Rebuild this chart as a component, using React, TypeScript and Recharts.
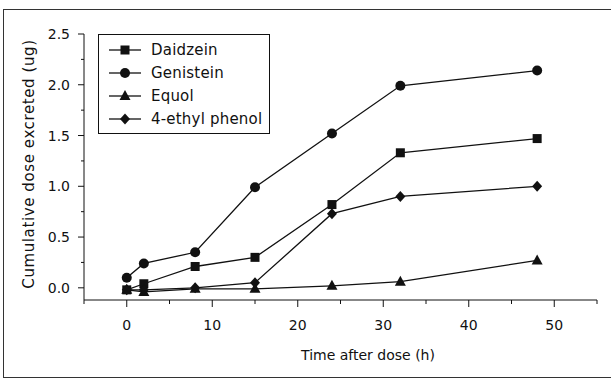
import { LineChart, Line, XAxis, YAxis } from 'recharts'

const HOURS = [0, 2, 8, 15, 24, 32, 48]
const DAIDZEIN = [-0.02, 0.04, 0.21, 0.3, 0.82, 1.33, 1.47]
const GENISTEIN = [0.1, 0.24, 0.35, 0.99, 1.52, 1.99, 2.14]
const EQUOL = [-0.02, -0.04, -0.01, -0.01, 0.02, 0.06, 0.27]
const ETHYL_PHENOL = [-0.02, -0.02, 0.0, 0.05, 0.73, 0.9, 1.0]

const X_TICKS = [-5, 0, 5, 10, 15, 20, 25, 30, 35, 40, 45, 50, 55]
const Y_TICKS = [0, 0.25, 0.5, 0.75, 1, 1.25, 1.5, 1.75, 2, 2.25, 2.5]

const SERIES = [
  { key: 'daidzein', name: 'Daidzein', shape: 'square' },
  { key: 'genistein', name: 'Genistein', shape: 'circle' },
  { key: 'equol', name: 'Equol', shape: 'triangle' },
  { key: 'ethyl', name: '4-ethyl phenol', shape: 'diamond' },
]

const INK = '#111'
const FONT = '"DejaVu Sans", sans-serif'

const data = HOURS.map((hour, i) => ({
  hour,
  daidzein: DAIDZEIN[i],
  genistein: GENISTEIN[i],
  equol: EQUOL[i],
  ethyl: ETHYL_PHENOL[i],
}))

function Marker({ shape, cx, cy }: { shape: string; cx: number; cy: number }) {
  if (shape === 'square') return <rect x={cx - 4.5} y={cy - 4.5} width={9} height={9} fill={INK} />
  if (shape === 'circle') return <circle cx={cx} cy={cy} r={5} fill={INK} />
  if (shape === 'triangle')
    return <polygon points={`${cx},${cy - 6} ${cx - 5.5},${cy + 4} ${cx + 5.5},${cy + 4}`} fill={INK} />
  return <polygon points={`${cx},${cy - 5.5} ${cx + 5},${cy} ${cx},${cy + 5.5} ${cx - 5},${cy}`} fill={INK} />
}

function XTick({ x, y, payload }: any) {
  const major = payload.value % 10 === 0
  return (
    <g>
      <line x1={x} y1={y} x2={x} y2={y + (major ? 7 : 4)} stroke={INK} />
      {major && (
        <text x={x} y={y + 30} textAnchor="middle" fontSize={14} fontFamily={FONT} fill={INK}>
          {payload.value}
        </text>
      )}
    </g>
  )
}

function YTick({ x, y, payload }: any) {
  const v = payload.value
  const major = Math.abs(v * 2 - Math.round(v * 2)) < 1e-6
  return (
    <g>
      <line x1={x} y1={y} x2={x - (major ? 6 : 3)} y2={y} stroke={INK} />
      {major && (
        <text x={x - 14} y={y + 5} textAnchor="end" fontSize={14} fontFamily={FONT} fill={INK}>
          {v.toFixed(1)}
        </text>
      )}
    </g>
  )
}

function LegendBox() {
  return (
    <div
      style={{
        position: 'absolute', left: 98, top: 34, width: 170, height: 98,
        border: `1px solid ${INK}`, background: '#fff', fontFamily: FONT, fontSize: 15,
        letterSpacing: 0.2, color: INK,
      }}
    >
      {SERIES.map((s, i) => (
        <div key={s.key} style={{ position: 'absolute', left: 0, top: 5 + i * 23, height: 20, display: 'flex', alignItems: 'center', whiteSpace: 'nowrap' }}>
          <svg width={44} height={20} style={{ marginLeft: 8 }}>
            <line x1={2} y1={10} x2={34} y2={10} stroke={INK} strokeWidth={1.3} />
            <Marker shape={s.shape} cx={18} cy={10} />
          </svg>
          <span>{s.name}</span>
        </div>
      ))}
    </div>
  )
}

export default function App() {
  return (
    <div style={{ position: 'relative', width: 611, height: 379, background: '#fff' }}>
      <style>{'body{margin:0}'}</style>
      <div
        style={{
          position: 'absolute', left: 3, top: 9, width: 608, height: 367,
          borderTop: '1px solid #333', borderLeft: '1px solid #333', borderBottom: '1px solid #333',
        }}
      />
      <LineChart
        width={611}
        height={379}
        data={data}
        margin={{ top: 34, right: 14, bottom: 39, left: 24 }}
        style={{ position: 'absolute', left: 0, top: 0 }}
      >
        <XAxis
          dataKey="hour"
          type="number"
          domain={[-5, 55]}
          ticks={X_TICKS}
          interval={0}
          tickSize={0}
          tickMargin={0}
          tickLine={false}
          tick={<XTick />}
          axisLine={{ stroke: INK }}
          height={40}
          label={{
            content: () => (
              <text x={368} y={360} textAnchor="middle" fontSize={14} fontFamily={FONT} fill={INK}>
                Time after dose (h)
              </text>
            ),
          }}
        />
        <YAxis
          type="number"
          domain={[-0.12, 2.5]}
          ticks={Y_TICKS}
          interval={0}
          tickSize={0}
          tickMargin={0}
          tickLine={false}
          tick={<YTick />}
          axisLine={{ stroke: INK }}
          width={60}
          label={{
            content: () => (
              <text
                x={29}
                y={164}
                transform="rotate(-90 29 164)"
                textAnchor="middle"
                dominantBaseline="central"
                fontSize={15}
                letterSpacing={0.6}
                fontFamily={FONT}
                fill={INK}
              >
                Cumulative dose excreted (ug)
              </text>
            ),
          }}
        />
        {SERIES.map((s) => (
          <Line
            key={s.key}
            dataKey={s.key}
            name={s.name}
            type="linear"
            stroke={INK}
            strokeWidth={1.3}
            isAnimationActive={false}
            dot={(p: any) => <Marker key={`${s.key}-${p.index}`} shape={s.shape} cx={p.cx} cy={p.cy} />}
            activeDot={false}
          />
        ))}
      </LineChart>
      <LegendBox />
    </div>
  )
}
